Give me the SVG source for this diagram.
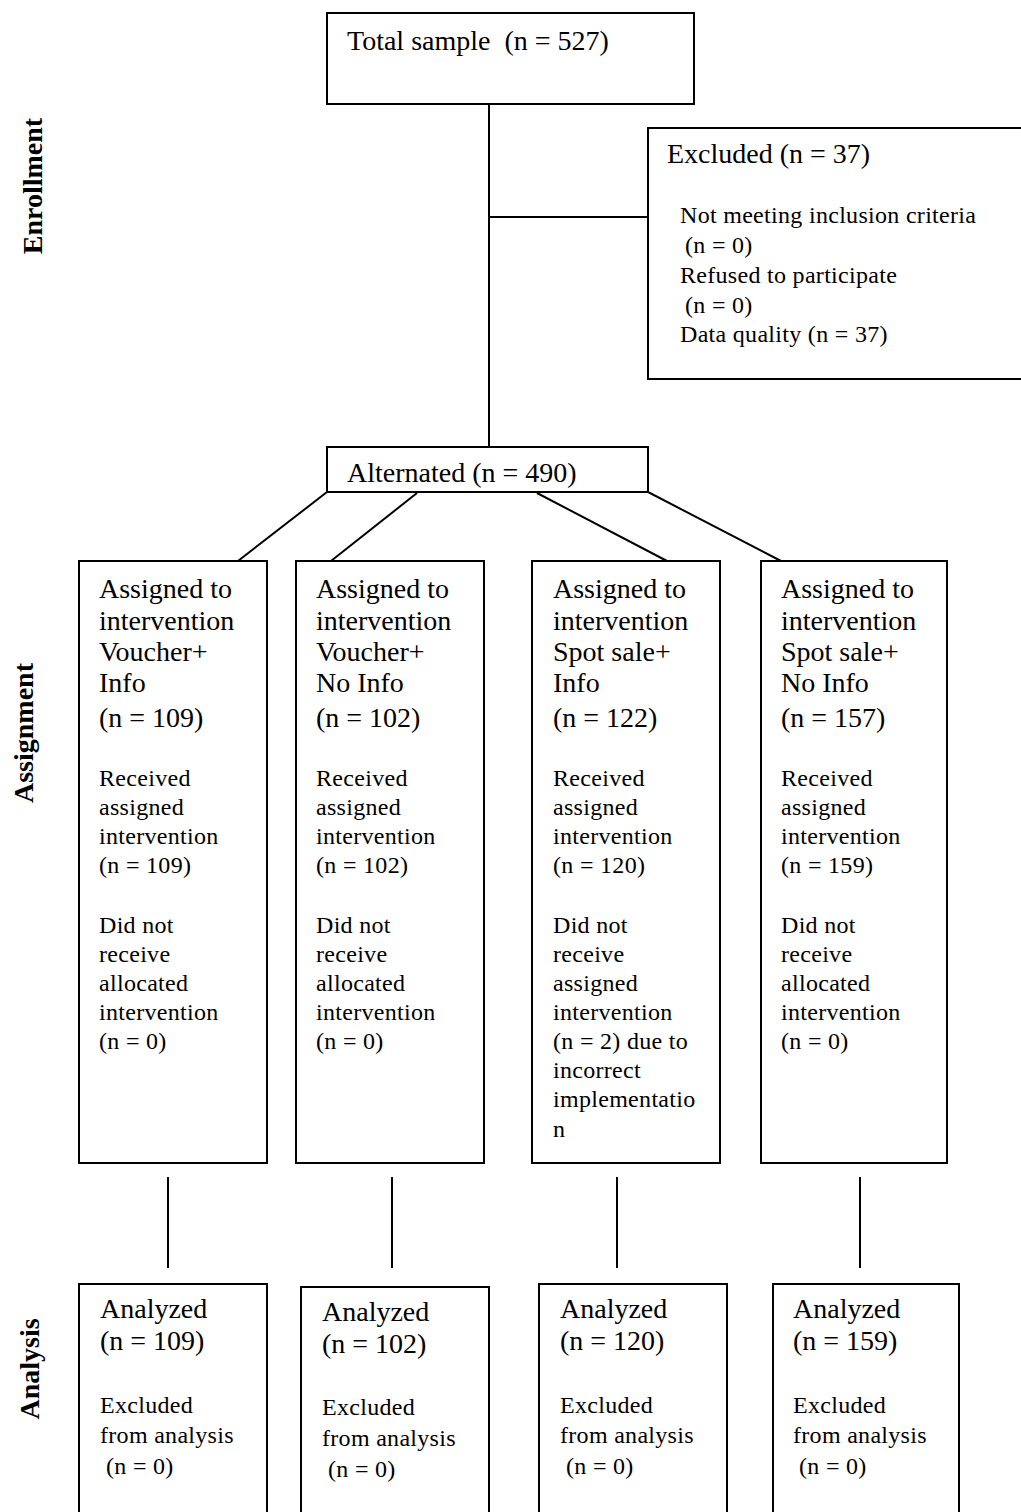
<svg xmlns="http://www.w3.org/2000/svg" width="1021" height="1512" viewBox="0 0 1021 1512">
<style>
text{font-family:"Liberation Serif","Times New Roman",serif;fill:#000}
.lg{font-size:28px}
.sm{font-size:24px;letter-spacing:0.3px}
.side{font-size:28px;font-weight:bold}
.box{fill:#fff;stroke:#000;stroke-width:2}
.ln{stroke:#000;stroke-width:2;fill:none}
</style>
<rect width="1021" height="1512" fill="#fff"/>
<g id="labels">
<text class="side" text-anchor="middle" transform="translate(42,186) rotate(-90)">Enrollment</text>
<text class="side" text-anchor="middle" transform="translate(33,733) rotate(-90)">Assignment</text>
<text class="side" text-anchor="middle" transform="translate(39,1369) rotate(-90)">Analysis</text>
</g>
<g id="connectors">
<line class="ln" x1="489" y1="104" x2="489" y2="447"/>
<line class="ln" x1="489" y1="217" x2="648" y2="217"/>
<line class="ln" x1="327" y1="492" x2="238" y2="561"/>
<line class="ln" x1="417" y1="493" x2="331" y2="561"/>
<line class="ln" x1="537" y1="493" x2="667" y2="561"/>
<line class="ln" x1="648" y1="492" x2="781" y2="561"/>
<line class="ln" x1="168" y1="1177" x2="168" y2="1268"/>
<line class="ln" x1="392" y1="1177" x2="392" y2="1268"/>
<line class="ln" x1="617" y1="1177" x2="617" y2="1268"/>
<line class="ln" x1="860" y1="1177" x2="860" y2="1268"/>
</g>
<g id="total">
<rect class="box" x="327" y="13" width="367" height="91"/>
<text class="lg" x="347" y="50" xml:space="preserve">Total sample  (n = 527)</text>
</g>
<g id="excluded">
<rect class="box" x="648" y="128" width="380" height="251"/>
<text class="lg" x="667" y="163">Excluded (n = 37)</text>
<text class="sm" x="680" y="223">Not meeting inclusion criteria</text>
<text class="sm" x="685" y="253">(n = 0)</text>
<text class="sm" x="680" y="283">Refused to participate</text>
<text class="sm" x="685" y="313">(n = 0)</text>
<text class="sm" x="680" y="342">Data quality (n = 37)</text>
</g>
<g id="alternated">
<rect class="box" x="327" y="447" width="321" height="45"/>
<text class="lg" x="347" y="482">Alternated (n = 490)</text>
</g>
<g id="assign1">
<rect class="box" x="79" y="561" width="188" height="602"/>
<text class="lg" x="99" y="598">Assigned to</text>
<text class="lg" x="99" y="630">intervention</text>
<text class="lg" x="99" y="661">Voucher+</text>
<text class="lg" x="99" y="692">Info</text>
<text class="lg" x="99" y="727">(n = 109)</text>
<text class="sm" x="99" y="786">Received</text>
<text class="sm" x="99" y="815">assigned</text>
<text class="sm" x="99" y="844">intervention</text>
<text class="sm" x="99" y="873">(n = 109)</text>
<text class="sm" x="99" y="933">Did not</text>
<text class="sm" x="99" y="962">receive</text>
<text class="sm" x="99" y="991">allocated</text>
<text class="sm" x="99" y="1020">intervention</text>
<text class="sm" x="99" y="1049">(n = 0)</text>
</g>
<g id="assign2">
<rect class="box" x="296" y="561" width="188" height="602"/>
<text class="lg" x="316" y="598">Assigned to</text>
<text class="lg" x="316" y="630">intervention</text>
<text class="lg" x="316" y="661">Voucher+</text>
<text class="lg" x="316" y="692">No Info</text>
<text class="lg" x="316" y="727">(n = 102)</text>
<text class="sm" x="316" y="786">Received</text>
<text class="sm" x="316" y="815">assigned</text>
<text class="sm" x="316" y="844">intervention</text>
<text class="sm" x="316" y="873">(n = 102)</text>
<text class="sm" x="316" y="933">Did not</text>
<text class="sm" x="316" y="962">receive</text>
<text class="sm" x="316" y="991">allocated</text>
<text class="sm" x="316" y="1020">intervention</text>
<text class="sm" x="316" y="1049">(n = 0)</text>
</g>
<g id="assign3">
<rect class="box" x="532" y="561" width="188" height="602"/>
<text class="lg" x="553" y="598">Assigned to</text>
<text class="lg" x="553" y="630">intervention</text>
<text class="lg" x="553" y="661">Spot sale+</text>
<text class="lg" x="553" y="692">Info</text>
<text class="lg" x="553" y="727">(n = 122)</text>
<text class="sm" x="553" y="786">Received</text>
<text class="sm" x="553" y="815">assigned</text>
<text class="sm" x="553" y="844">intervention</text>
<text class="sm" x="553" y="873">(n = 120)</text>
<text class="sm" x="553" y="933">Did not</text>
<text class="sm" x="553" y="962">receive</text>
<text class="sm" x="553" y="991">assigned</text>
<text class="sm" x="553" y="1020">intervention</text>
<text class="sm" x="553" y="1049">(n = 2) due to</text>
<text class="sm" x="553" y="1078">incorrect</text>
<text class="sm" x="553" y="1107">implementatio</text>
<text class="sm" x="553" y="1137">n</text>
</g>
<g id="assign4">
<rect class="box" x="761" y="561" width="186" height="602"/>
<text class="lg" x="781" y="598">Assigned to</text>
<text class="lg" x="781" y="630">intervention</text>
<text class="lg" x="781" y="661">Spot sale+</text>
<text class="lg" x="781" y="692">No Info</text>
<text class="lg" x="781" y="727">(n = 157)</text>
<text class="sm" x="781" y="786">Received</text>
<text class="sm" x="781" y="815">assigned</text>
<text class="sm" x="781" y="844">intervention</text>
<text class="sm" x="781" y="873">(n = 159)</text>
<text class="sm" x="781" y="933">Did not</text>
<text class="sm" x="781" y="962">receive</text>
<text class="sm" x="781" y="991">allocated</text>
<text class="sm" x="781" y="1020">intervention</text>
<text class="sm" x="781" y="1049">(n = 0)</text>
</g>
<g id="analysis1">
<rect class="box" x="79" y="1284" width="188" height="240"/>
<text class="lg" x="100" y="1318">Analyzed</text>
<text class="lg" x="100" y="1350">(n = 109)</text>
<text class="sm" x="100" y="1413">Excluded</text>
<text class="sm" x="100" y="1443">from analysis</text>
<text class="sm" x="106" y="1474">(n = 0)</text>
</g>
<g id="analysis2">
<rect class="box" x="301" y="1287" width="188" height="240"/>
<text class="lg" x="322" y="1321">Analyzed</text>
<text class="lg" x="322" y="1353">(n = 102)</text>
<text class="sm" x="322" y="1415">Excluded</text>
<text class="sm" x="322" y="1446">from analysis</text>
<text class="sm" x="328" y="1477">(n = 0)</text>
</g>
<g id="analysis3">
<rect class="box" x="539" y="1284" width="188" height="240"/>
<text class="lg" x="560" y="1318">Analyzed</text>
<text class="lg" x="560" y="1350">(n = 120)</text>
<text class="sm" x="560" y="1413">Excluded</text>
<text class="sm" x="560" y="1443">from analysis</text>
<text class="sm" x="566" y="1474">(n = 0)</text>
</g>
<g id="analysis4">
<rect class="box" x="773" y="1284" width="186" height="240"/>
<text class="lg" x="793" y="1318">Analyzed</text>
<text class="lg" x="793" y="1350">(n = 159)</text>
<text class="sm" x="793" y="1413">Excluded</text>
<text class="sm" x="793" y="1443">from analysis</text>
<text class="sm" x="799" y="1474">(n = 0)</text>
</g>
</svg>
